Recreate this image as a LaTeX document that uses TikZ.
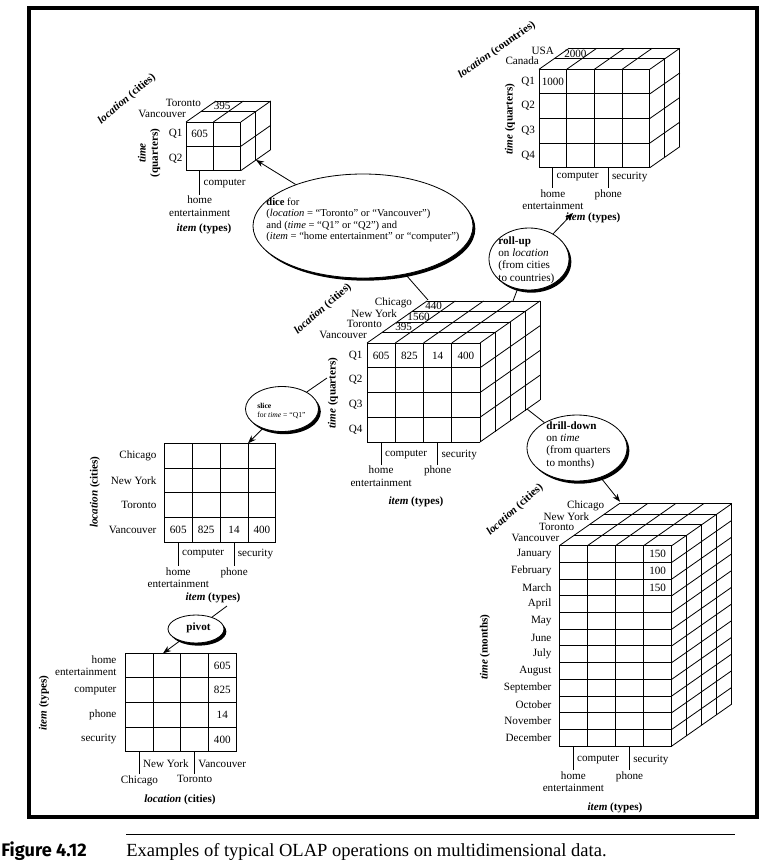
\documentclass[tikz,border=0pt]{standalone}
\usepackage{fontspec}
\setmainfont{Liberation Serif}
\newfontfamily\figfont{Fira Sans}
\usetikzlibrary{arrows.meta,shapes.geometric,shadows}

\newcommand{\olapgrid}[6]{%
  \foreach \i in {0,...,#3} \draw (#1+\i*#5,#2) -- (#1+\i*#5,#2+#4*#6);
  \foreach \j in {0,...,#4} \draw (#1,#2+\j*#6) -- (#1+#3*#5,#2+\j*#6);
}
\newcommand{\olapdepth}[7]{%
  \foreach \i in {0,...,#3} \draw (#1+\i*#5,#2) -- ++(#7*15,-#7*10.5);
  \foreach \k in {1,...,#7} \draw (#1+\k*15,#2-\k*10.5) -- ++(#3*#5,0) -- ++(0,#4*#6);
  \foreach \j in {1,...,#4} \draw (#1+#3*#5,#2+\j*#6) -- ++(#7*15,-#7*10.5);
}
\newcommand{\dimlab}[2]{\textbf{\textit{#1}} \textbf{(#2)}}

\tikzset{
  lbl/.style={inner sep=1pt, font=\fontsize{9.5}{10.5}\selectfont},
  bubble/.style={ellipse, draw, fill=white, inner sep=0pt,
    drop shadow={opacity=1, fill=black, shadow xshift=.7mm, shadow yshift=-.8mm}},
  optext/.style={align=left, inner sep=0pt, anchor=west},
  oparrow/.style={-{Stealth[length=2.4mm, width=1.8mm]}},
}

\begin{document}
\begin{tikzpicture}[x=0.03cm, y=-0.03cm, line width=.7pt, every node/.style={lbl}]
\useasboundingbox (0,0) rectangle (775,862);
\draw [line width=3.4pt] (29,8) rectangle (757,817);

% dice result
\olapgrid{186}{122}{2}{2}{27.4}{24.3}
\olapdepth{186}{122}{2}{2}{27.4}{24.3}{2}
\node [anchor=east] (dl0) at (187.5,113.75) {Vancouver};
\node [anchor=east] (dl1) at (202.5,103.25) {Toronto};
\node (dv1) at (222.2,106.3) {395};
\node [anchor=east] (dq1) at (184,134.2) {Q1};
\node [anchor=east] (dq2) at (184,158.5) {Q2};
\node (dv2) at (199.7,134.2) {605};
\node [rotate=90, align=center] (dtime) at (149,153) {\textbf{\textit{time}}\\\textbf{(quarters)}};
\node [rotate=40] (dloc) at (127,99) {\dimlab{location}{cities}};
\draw (199.7,170.6) -- (199.7,194.6);
\node [anchor=west] (dcomp) at (202,183.6) {computer};
\node [anchor=north, align=center] (dhome) at (199.7,194.6) {home\\entertainment};
\node (ditem) at (204,229) {\dimlab{item}{types}};

% roll-up result
\olapgrid{539}{69.3}{4}{4}{27.7}{24.6}
\olapdepth{539}{69.3}{4}{4}{27.7}{24.6}{2}
\node [anchor=east] (rl0) at (540.5,61.05) {Canada};
\node [anchor=east] (rl1) at (555.5,50.55) {USA};
\node (rv1) at (575.4,53.6) {2000};
\foreach \q [count=\j from 0] in {Q1,Q2,Q3,Q4}
  \node [anchor=east] (rq\j) at (536.5,81.6+\j*24.6) {\q};
\node (rv2) at (552.9,81.6) {1000};
\node [rotate=90] (rtime) at (510,119) {\dimlab{time}{quarters}};
\node [rotate=35] (rloc) at (497,50) {\dimlab{location}{countries}};
\draw (552.9,167.7) -- (552.9,187.7);
\draw (608.3,167.7) -- (608.3,187.7);
\node [anchor=west] (rcomp) at (555,177) {computer};
\node [anchor=west] (rsec) at (610.5,177) {security};
\node [anchor=north, align=center] (rhome) at (552.9,187.7) {home\\entertainment};
\node [anchor=north] (rphone) at (608.3,187.7) {phone};
\node (ritem) at (593,218) {\dimlab{item}{types}};

% central cube
\olapgrid{367}{343}{4}{4}{28.25}{24.75}
\olapdepth{367}{343}{4}{4}{28.25}{24.75}{4}
\foreach \c [count=\k from 0] in {Vancouver,Toronto,New York,Chicago}
  \node [anchor=east] (cl\k) at (368.5+\k*15,334.75-\k*10.5) {\c};
\node (cv1) at (403.6,327.25) {395};
\node (cv2) at (418.6,316.75) {1560};
\node (cv3) at (433.6,306.25) {440};
\foreach \q [count=\j from 0] in {Q1,Q2,Q3,Q4}
  \node [anchor=east] (cq\j) at (364,355.4+\j*24.75) {\q};
\foreach \v [count=\i from 0] in {605,825,14,400}
  \node (cf\i) at (381.1+\i*28.25,355.4) {\v};
\node [rotate=90] (ctime) at (333,393) {\dimlab{time}{quarters}};
\node [rotate=41] (cloc) at (323,309) {\dimlab{location}{cities}};
\draw (381.1,442) -- (381.1,464.5);
\draw (437.6,442) -- (437.6,464.5);
\node [anchor=west] (ccomp) at (383.5,455) {computer};
\node [anchor=west] (csec) at (440,455) {security};
\node [anchor=north, align=center] (chome) at (381.1,464.5) {home\\entertainment};
\node [anchor=north] (cphone) at (437.6,464.5) {phone};
\node (citem) at (416,502) {\dimlab{item}{types}};

% slice result
\olapgrid{164.3}{443.3}{4}{4}{27.9}{24.8}
\foreach \c [count=\j from 0] in {Chicago,New York,Toronto,Vancouver}
  \node [anchor=east] (sr\j) at (158,455.7+\j*24.8) {\c};
\foreach \v [count=\i from 0] in {605,825,14,400}
  \node (sf\i) at (178.25+\i*27.9,530.1) {\v};
\node [rotate=90] (sloc) at (95,492) {\dimlab{location}{cities}};
\draw (178.3,542.5) -- (178.3,566);
\draw (234.1,542.5) -- (234.1,566);
\node [anchor=west] (scomp) at (180.5,554) {computer};
\node [anchor=west] (ssec) at (236.3,554) {security};
\node [anchor=north, align=center] (shome) at (178.3,566) {home\\entertainment};
\node [anchor=north] (sphone) at (234.1,566) {phone};
\node (sitem) at (213,598) {\dimlab{item}{types}};

% pivot result
\olapgrid{125.7}{653.3}{4}{4}{27.6}{24.6}
\node [anchor=east, align=right] (pr0) at (118,665.6) {home\\entertainment};
\node [anchor=east] (pr1) at (118,690.2) {computer};
\node [anchor=east] (pr2) at (118,714.8) {phone};
\node [anchor=east] (pr3) at (118,739.4) {security};
\foreach \v [count=\j from 0] in {605,825,14,400}
  \node (pf\j) at (222.3,665.6+\j*24.6) {\v};
\node [rotate=90] (pitem) at (44,703) {\dimlab{item}{types}};
\draw (139.5,751.7) -- (139.5,774);
\draw (194.7,751.7) -- (194.7,774);
\node [anchor=west] (pny) at (141.5,764) {New York};
\node [anchor=west] (pvan) at (196.9,764) {Vancouver};
\node [anchor=north] (pchi) at (139.5,774) {Chicago};
\node [anchor=north] (ptor) at (194.7,774) {Toronto};
\node (ploc) at (180,800) {\dimlab{location}{cities}};

% drill-down result
\olapgrid{559.3}{545.7}{4}{12}{28.1}{16.7}
\olapdepth{559.3}{545.7}{4}{12}{28.1}{16.7}{4}
\foreach \c [count=\k from 0] in {Vancouver,Toronto,New York,Chicago}
  \node [anchor=east] (ml\k) at (560.8+\k*15,537.45-\k*10.5) {\c};
\foreach \m [count=\j from 0] in {January,February,March,April,May,June,July,August,September,October,November,December}
  \node [anchor=east] (mr\j) at (553,554.05+\j*16.7) {\m};
\node (mv1) at (657.65,554.05) {150};
\node (mv2) at (657.65,570.75) {100};
\node (mv3) at (657.65,587.45) {150};
\node [rotate=90] (mtime) at (485,647) {\dimlab{time}{months}};
\node [rotate=42] (mloc) at (515,510) {\dimlab{location}{cities}};
\draw (573.35,746) -- (573.35,770);
\draw (629.55,746) -- (629.55,770);
\node [anchor=west] (mcomp) at (575.5,760) {computer};
\node [anchor=west] (msec) at (631.7,760) {security};
\node [anchor=north, align=center] (mhome) at (573.35,770) {home\\entertainment};
\node [anchor=north] (mphone) at (629.55,770) {phone};
\node (mitem) at (615,808) {\dimlab{item}{types}};

% operations
\node [bubble, minimum width=6.6cm, minimum height=3.12cm] (dice) at (363,226) {};
\node [optext, font=\fontsize{9}{9.6}\selectfont] (dicet) at (266,220)
  {\textbf{dice} for\\(\textit{location} = “Toronto” or “Vancouver”)\\and (\textit{time} = “Q1” or “Q2”) and\\(\textit{item} = “home entertainment” or “computer”)};
\node [bubble, minimum width=2.4cm, minimum height=1.86cm] (rollup) at (529,259) {};
\node [optext] (rollupt) at (498,260) {\textbf{roll-up}\\on \textit{location}\\(from cities\\to countries)};
\node [bubble, minimum width=3cm, minimum height=1.98cm] (drill) at (577,448) {};
\node [optext] (drillt) at (546,445) {\textbf{drill-down}\\on \textit{time}\\(from quarters\\to months)};
\node [bubble, minimum width=2.19cm, minimum height=1.35cm] (slice) at (282,409) {};
\node [optext, font=\fontsize{6.5}{7.5}\selectfont] (slicet) at (257,411) {\textbf{slice}\\for \textit{time} = “Q1”};
\node [bubble, minimum width=1.68cm, minimum height=.84cm] (pivot) at (196,629) {};
\node [optext] (pivott) at (186,628) {\textbf{pivot}};

\coordinate (ctop) at (428,300);
\coordinate (dicetip) at (256,160);
\coordinate (cback) at (513,301);
\coordinate (rolltip) at (573,213);
\coordinate (cside) at (327,378);
\coordinate (slicetip) at (248,443.3);
\coordinate (cbase) at (527,409);
\coordinate (drilltip) at (620,501.7);
\coordinate (sbase) at (227,606);
\coordinate (pivottip) at (163,653.3);
\draw (ctop) -- (dice);
\draw [oparrow] (dice) -- (dicetip);
\draw (cback) -- (rollup);
\draw [oparrow] (rollup) -- (rolltip);
\draw (cside) -- (slice);
\draw [oparrow] (slice) -- (slicetip);
\draw (cbase) -- (drill);
\draw [oparrow] (drill) -- (drilltip);
\draw (sbase) -- (pivot);
\draw [oparrow] (pivot) -- (pivottip);

% caption
\draw (126,834) -- (735,834);
\node [anchor=base west, inner sep=0pt, font=\figfont\bfseries\fontsize{15.5}{17}\selectfont] (fig) at (1,856) {Figure 4.12};
\node [anchor=base west, inner sep=0pt, font=\fontsize{15.8}{17}\selectfont] (cap) at (126,856) {Examples of typical OLAP operations on multidimensional data.};
\end{tikzpicture}
\end{document}
